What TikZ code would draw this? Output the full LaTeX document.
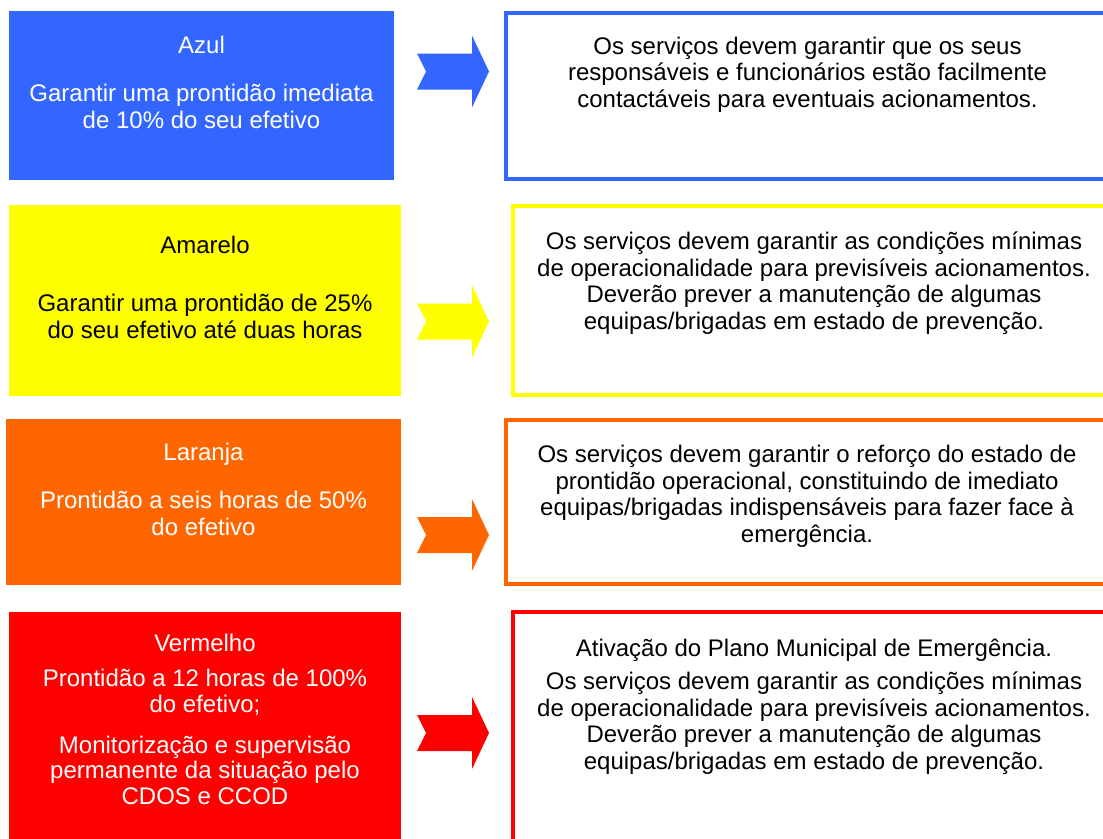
\documentclass[tikz,border=0pt]{standalone}
\usepackage{fontspec}
\setmainfont{Liberation Sans}
\usetikzlibrary{positioning}
\definecolor{NivelAzul}{HTML}{3366FF}
\definecolor{NivelAmarelo}{HTML}{FFFF00}
\definecolor{NivelLaranja}{HTML}{FF6600}
\definecolor{NivelVermelho}{HTML}{FF0000}
\tikzset{
  nivel/.style={fill=#1,draw=none,inner sep=0pt,outer sep=0pt},
  acao/.style={draw=#1,line width=4pt,fill=white,inner sep=0pt,outer sep=0pt},
  titulo/.style={font=\fontsize{24}{27}\selectfont,anchor=base,inner sep=0pt},
  lvltxt/.style={font=\fontsize{24}{27}\selectfont,align=center,anchor=base,inner sep=0pt},
  acaotxt/.style={font=\fontsize{24}{26.5}\selectfont,align=center,anchor=base,inner sep=0pt},
  pics/levelarrow/.style={code={
    \fill[#1] (0,-18) -- (55,-18) -- (55,-36) -- (72,0) -- (55,36)
      -- (55,18) -- (0,18) -- (9,0) -- cycle;
  }}
}
\begin{document}
\begin{tikzpicture}[x=1pt,y=-1pt]
  \useasboundingbox (0,0) rectangle (1103,838);
  % level boxes on the left
  \node[nivel=NivelAzul,minimum width=385pt,minimum height=169pt] (azul) at (201.5,95.5) {};
  \node[nivel=NivelAmarelo,minimum width=392pt,minimum height=191pt] (amarelo) at (205,300.5) {};
  \node[nivel=NivelLaranja,minimum width=395pt,minimum height=166pt] (laranja) at (203.5,502) {};
  \node[nivel=NivelVermelho,minimum width=392pt,minimum height=240pt] (vermelho) at (205,732) {};

  % action boxes on the right (cut by the page edge)
  \node[acao=NivelAzul,minimum width=603pt,minimum height=166pt] (azulacao) at (807.5,96) {};
  \node[acao=NivelAmarelo,minimum width=602pt,minimum height=189pt] (amareloacao) at (814,300.5) {};
  \node[acao=NivelLaranja,minimum width=602pt,minimum height=164pt] (laranjaacao) at (807,502) {};
  \node[acao=NivelVermelho,minimum width=602pt,minimum height=250pt] (vermelhoacao) at (814,737) {};

  % block arrows
  \pic at (417,71.5) {levelarrow=NivelAzul};
  \pic at (417,321.5) {levelarrow=NivelAmarelo};
  \pic at (417,535) {levelarrow=NivelLaranja};
  \pic at (417,733) {levelarrow=NivelVermelho};

  % texts of the levels (anchored on their last baseline)
  \node[titulo,text=white] (azultit) at (201.5,53) {Azul};
  \node[lvltxt,text=white] (azultxt) at (201.5,128)
    {Garantir uma prontidão imediata\\de 10\% do seu efetivo};
  \node[titulo] (amarelotit) at (205,253) {Amarelo};
  \node[lvltxt] (amarelotxt) at (205,338)
    {Garantir uma prontidão de 25\%\\do seu efetivo até duas horas};
  \node[titulo,text=white] (laranjatit) at (203.5,460) {Laranja};
  \node[lvltxt,text=white] (laranjatxt) at (203.5,535)
    {Prontidão a seis horas de 50\%\\do efetivo};
  \node[titulo,text=white] (vermelhotit) at (205,651) {Vermelho};
  \node[lvltxt,text=white,font=\fontsize{24}{25.5}\selectfont] (vermelhotxt) at (205,712)
    {Prontidão a 12 horas de 100\%\\do efetivo;};
  \node[lvltxt,text=white,font=\fontsize{24}{25.5}\selectfont] (vermelhomon) at (205,804)
    {Monitorização e supervisão\\permanente da situação pelo\\CDOS e CCOD};

  % texts of the actions
  \node[acaotxt] (azulacaotxt) at (807.5,107)
    {Os serviços devem garantir que os seus\\responsáveis e funcionários estão facilmente\\contactáveis para eventuais acionamentos.};
  \node[acaotxt] (amareloacaotxt) at (814,329)
    {Os serviços devem garantir as condições mínimas\\de operacionalidade para previsíveis acionamentos.\\Deverão prever a manutenção de algumas\\equipas/brigadas em estado de prevenção.};
  \node[acaotxt] (laranjaacaotxt) at (807,542)
    {Os serviços devem garantir o reforço do estado de\\prontidão operacional, constituindo de imediato\\equipas/brigadas indispensáveis para fazer face à\\emergência.};
  \node[acaotxt] (vermelhoplano) at (814,656)
    {Ativação do Plano Municipal de Emergência.};
  \node[acaotxt] (vermelhoacaotxt) at (814,769)
    {Os serviços devem garantir as condições mínimas\\de operacionalidade para previsíveis acionamentos.\\Deverão prever a manutenção de algumas\\equipas/brigadas em estado de prevenção.};
\end{tikzpicture}
\end{document}
